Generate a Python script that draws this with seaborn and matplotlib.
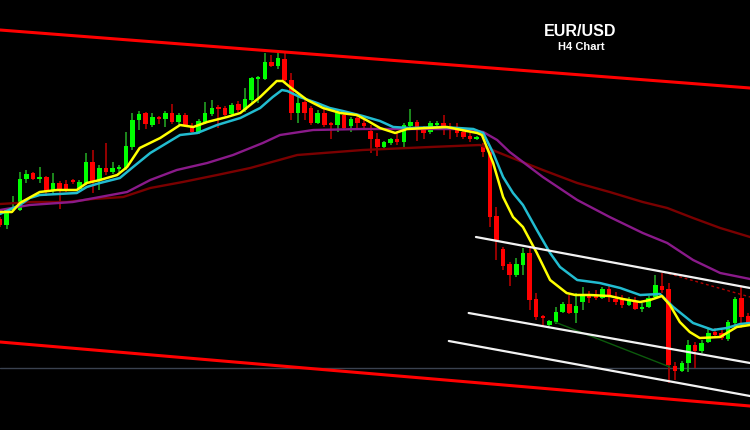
import numpy as np
import pandas as pd
import matplotlib
matplotlib.use("Agg")
import matplotlib.pyplot as plt
import seaborn as sns

# H4 candles (bar 0 = left edge)
opens = [1.1081, 1.1075, 1.1090, 1.1090, 1.1121, 1.1127, 1.1121, 1.1123, 1.1110, 1.1117,
         1.1116, 1.1119, 1.1111, 1.1117, 1.1138, 1.1120, 1.1132, 1.1128, 1.1131, 1.1132,
         1.1153, 1.1180, 1.1187, 1.1175, 1.1183, 1.1181, 1.1187, 1.1178, 1.1185, 1.1173,
         1.1168, 1.1178, 1.1186, 1.1193, 1.1192, 1.1186, 1.1196, 1.1190, 1.1200, 1.1221,
         1.1221, 1.1238, 1.1234, 1.1241, 1.1220, 1.1187, 1.1198, 1.1192, 1.1177, 1.1187,
         1.1176, 1.1175, 1.1185, 1.1174, 1.1182, 1.1177, 1.1169, 1.1161, 1.1153, 1.1157,
         1.1161, 1.1158, 1.1174, 1.1178, 1.1170, 1.1168, 1.1175, 1.1177, 1.1173, 1.1170,
         1.1168, 1.1164, 1.1161, 1.1153, 1.1148, 1.1084, 1.1051, 1.1036, 1.1025, 1.1035,
         1.1047, 1.1001, 1.0983, 1.0975, 1.0978, 1.0988, 1.0996, 1.0987, 1.0998, 1.1004,
         1.1005, 1.1002, 1.1011, 1.1001, 1.1002, 1.0995, 1.0998, 1.0991, 1.0993, 1.1003,
         1.1014, 1.1011, 1.0934, 1.0929, 1.0937, 1.0955, 1.0949, 1.0958, 1.0968, 1.0967,
         1.0961, 1.0977, 1.1002, 1.0984]
closes = [1.1075, 1.1090, 1.1093, 1.1121, 1.1126, 1.1121, 1.1122, 1.1108, 1.1117, 1.1109,
          1.1110, 1.1118, 1.1118, 1.1138, 1.1118, 1.1132, 1.1128, 1.1132, 1.1133, 1.1154,
          1.1180, 1.1186, 1.1176, 1.1183, 1.1181, 1.1187, 1.1178, 1.1185, 1.1175, 1.1168,
          1.1179, 1.1187, 1.1192, 1.1191, 1.1185, 1.1195, 1.1190, 1.1201, 1.1222, 1.1222,
          1.1238, 1.1234, 1.1242, 1.1220, 1.1187, 1.1197, 1.1187, 1.1177, 1.1187, 1.1175,
          1.1175, 1.1187, 1.1172, 1.1181, 1.1177, 1.1174, 1.1161, 1.1153, 1.1158, 1.1161,
          1.1158, 1.1175, 1.1178, 1.1173, 1.1167, 1.1177, 1.1176, 1.1174, 1.1171, 1.1167,
          1.1163, 1.1161, 1.1162, 1.1148, 1.1083, 1.1060, 1.1034, 1.1025, 1.1036, 1.1047,
          1.1000, 1.0983, 1.0982, 1.0979, 1.0988, 1.0996, 1.0987, 1.0994, 1.1004, 1.1002,
          1.1002, 1.1011, 1.1004, 1.0998, 1.0995, 1.1001, 1.0991, 1.0993, 1.1002, 1.1015,
          1.1010, 1.0935, 1.0929, 1.0937, 1.0955, 1.0949, 1.0957, 1.0967, 1.0965, 1.0962,
          1.0978, 1.1001, 1.0983, 1.0977]
highs = [1.1083, 1.1091, 1.1104, 1.1128, 1.1130, 1.1128, 1.1133, 1.1124, 1.1127, 1.1119,
         1.1120, 1.1121, 1.1120, 1.1147, 1.1150, 1.1135, 1.1157, 1.1138, 1.1135, 1.1168,
         1.1187, 1.1189, 1.1188, 1.1187, 1.1184, 1.1189, 1.1196, 1.1187, 1.1187, 1.1177,
         1.1181, 1.1198, 1.1200, 1.1195, 1.1194, 1.1197, 1.1199, 1.1212, 1.1223, 1.1224,
         1.1247, 1.1245, 1.1248, 1.1248, 1.1227, 1.1205, 1.1200, 1.1194, 1.1190, 1.1192,
         1.1178, 1.1190, 1.1188, 1.1183, 1.1185, 1.1180, 1.1175, 1.1167, 1.1159, 1.1162,
         1.1167, 1.1177, 1.1191, 1.1180, 1.1174, 1.1179, 1.1179, 1.1185, 1.1177, 1.1177,
         1.1170, 1.1167, 1.1164, 1.1157, 1.1150, 1.1093, 1.1053, 1.1038, 1.1042, 1.1052,
         1.1052, 1.1007, 1.0985, 1.0980, 1.0993, 1.0998, 1.1005, 1.1007, 1.1013, 1.1009,
         1.1010, 1.1013, 1.1015, 1.1008, 1.1005, 1.1003, 1.1003, 1.0997, 1.1004, 1.1025,
         1.1027, 1.1017, 1.0938, 1.0939, 1.0960, 1.0958, 1.0960, 1.0972, 1.0972, 1.0970,
         1.0980, 1.1003, 1.1013, 1.0987]
lows = [1.1073, 1.1071, 1.1089, 1.1089, 1.1117, 1.1120, 1.1117, 1.1104, 1.1107, 1.1091,
        1.1108, 1.1116, 1.1110, 1.1115, 1.1107, 1.1110, 1.1125, 1.1126, 1.1128, 1.1130,
        1.1150, 1.1170, 1.1171, 1.1173, 1.1176, 1.1173, 1.1176, 1.1175, 1.1173, 1.1167,
        1.1166, 1.1176, 1.1184, 1.1172, 1.1184, 1.1184, 1.1188, 1.1188, 1.1197, 1.1197,
        1.1220, 1.1233, 1.1231, 1.1218, 1.1180, 1.1177, 1.1180, 1.1175, 1.1176, 1.1173,
        1.1161, 1.1168, 1.1170, 1.1168, 1.1172, 1.1170, 1.1147, 1.1144, 1.1151, 1.1155,
        1.1155, 1.1153, 1.1173, 1.1159, 1.1161, 1.1166, 1.1172, 1.1165, 1.1161, 1.1163,
        1.1161, 1.1158, 1.1160, 1.1143, 1.1073, 1.1040, 1.1030, 1.1014, 1.1023, 1.1025,
        1.0990, 1.0980, 1.0973, 1.0974, 1.0976, 1.0987, 1.0986, 1.0977, 1.0990, 1.0997,
        1.1000, 1.1001, 1.0998, 1.0995, 1.0992, 1.0994, 1.0990, 1.0988, 1.0992, 1.1002,
        1.1007, 1.0917, 1.0920, 1.0928, 1.0928, 1.0932, 1.0947, 1.0957, 1.0962, 1.0960,
        1.0959, 1.0975, 1.0972, 1.0975]

# moving averages, sampled along the bar axis
fast_bar = [0, 1.8, 3.0, 6.0, 8.6, 11.6, 13.1, 15.1, 17.7, 19.2, 21.1, 24.2, 27.2, 29.2, 31.3,
            34.3, 36.3, 37.8, 39.3, 41.8, 42.7, 43.8, 46.4, 48.8, 51.4, 53.9, 55.6, 57.4, 59.7,
            61.5, 64.5, 67.5, 70.5, 72.1, 72.8, 74.5, 76.0, 77.5, 79.0, 81.1, 83.1, 85.6, 86.9,
            89.1, 92.1, 94.1, 96.7, 98.2, 100.0, 101.2, 102.7, 104.2, 105.7, 108.8, 109.8,
            111.3, 113.3]
fast_ma = [1.1088, 1.1088, 1.1097, 1.1108, 1.1110, 1.1110, 1.1117, 1.1120, 1.1125, 1.1133,
           1.1152, 1.1162, 1.1175, 1.1173, 1.1178, 1.1183, 1.1187, 1.1195, 1.1203, 1.1219,
           1.1219, 1.1213, 1.1200, 1.1192, 1.1187, 1.1185, 1.1179, 1.1172, 1.1167, 1.1171,
           1.1172, 1.1173, 1.1169, 1.1167, 1.1165, 1.1137, 1.1103, 1.1083, 1.1073, 1.1047,
           1.1020, 1.1007, 1.1005, 1.1005, 1.1004, 1.1001, 1.0998, 1.1000, 1.1004, 1.0995,
           1.0978, 1.0968, 1.0962, 1.0963, 1.0967, 1.0973, 1.0975]
mid_bar = [0, 2.0, 3.0, 4.5, 6.0, 11.6, 13.1, 15.1, 18.1, 20.1, 22.7, 25.2, 27.2, 29.8, 32.8,
           36.3, 37.8, 39.3, 41.2, 42.6, 43.4, 45.3, 47.9, 49.8, 51.8, 54.8, 57.4, 59.4, 61.9,
           66.9, 71.5, 73.0, 74.5, 76.0, 77.5, 79.0, 81.1, 83.1, 84.6, 87.2, 90.6, 93.7, 96.7,
           99.7, 101.7, 104.7, 107.7, 109.8, 111.8, 113.3]
mid_ma = [1.1086, 1.1092, 1.1095, 1.1102, 1.1105, 1.1107, 1.1113, 1.1117, 1.1122, 1.1133,
          1.1147, 1.1157, 1.1165, 1.1167, 1.1175, 1.1182, 1.1187, 1.1192, 1.1203, 1.1210,
          1.1209, 1.1203, 1.1197, 1.1192, 1.1189, 1.1184, 1.1179, 1.1173, 1.1172, 1.1173,
          1.1171, 1.1167, 1.1147, 1.1123, 1.1107, 1.1095, 1.1070, 1.1047, 1.1033, 1.1020,
          1.1017, 1.1012, 1.1005, 1.1006, 1.0993, 1.0977, 1.0970, 1.0972, 1.0976, 1.0977]
slow_bar = [0, 4.5, 11.0, 15.1, 19.2, 22.7, 26.7, 31.3, 35.2, 39.7, 42.3, 47.3, 54.8, 69.9,
            73.0, 75.1, 77.0, 82.0, 87.2, 92.1, 97.1, 100.8, 104.7, 108.8, 113.3]
slow_ma = [1.1090, 1.1095, 1.1098, 1.1103, 1.1108, 1.1120, 1.1130, 1.1137, 1.1145, 1.1157,
           1.1165, 1.1170, 1.1171, 1.1171, 1.1168, 1.1160, 1.1148, 1.1123, 1.1100, 1.1083,
           1.1067, 1.1057, 1.1040, 1.1027, 1.1021]
long_bar = [0, 5.0, 10.1, 14.0, 18.6, 22.7, 27.6, 32.8, 37.8, 44.9, 54.8, 65.0, 72.5, 77.0,
            82.0, 87.2, 92.1, 97.1, 100.8, 104.7, 108.8, 113.3]
long_ma = [1.1096, 1.1098, 1.1098, 1.1101, 1.1103, 1.1112, 1.1118, 1.1125, 1.1132, 1.1145,
           1.1150, 1.1153, 1.1155, 1.1143, 1.1130, 1.1117, 1.1108, 1.1098, 1.1092, 1.1082,
           1.1072, 1.1063]

# hand-drawn lines: (bar start, bar end), (price start, price end)
outer_top = ([0, 113.3], [1.1270, 1.1212])
outer_bottom = ([0, 113.3], [1.0958, 1.0894])
channel_top = ([71.9, 113.3], [1.1063, 1.1012])
channel_mid = ([70.8, 113.3], [1.0987, 1.0937])
channel_low = ([67.8, 113.3], [1.0959, 1.0904])
green_line = ([83.8, 101.2], [1.0978, 1.0933])
dotted_line = ([100.2, 113.3], [1.1028, 1.1003])
support_level = 1.0932

sns.set_theme(style="dark", rc={"axes.facecolor": "black", "figure.facecolor": "black"})
plt.rcParams["font.family"] = ["Liberation Sans", "DejaVu Sans"]

df = pd.DataFrame({"open": opens, "high": highs, "low": lows, "close": closes})
df["bar"] = np.arange(len(df))
up = df["close"] >= df["open"]

fig = plt.figure(figsize=(7.5, 4.3), dpi=100)
ax = fig.add_axes([0, 0, 1, 1])
ax.set_facecolor("black")

# candles
ax.vlines(df.loc[up, "bar"], df.loc[up, "low"], df.loc[up, "high"], color="#22a022", linewidth=1.2, zorder=2)
ax.vlines(df.loc[~up, "bar"], df.loc[~up, "low"], df.loc[~up, "high"], color="#b00000", linewidth=1.2, zorder=2)
body = (df["close"] - df["open"]).abs().clip(lower=0.00015)
ax.bar(df["bar"], body, bottom=df[["open", "close"]].min(axis=1), width=0.68,
       color=np.where(up, "#00ff00", "#ff0000"), linewidth=0, zorder=3)

# moving averages
sns.lineplot(x=long_bar, y=long_ma, color="#7a0000", linewidth=1.7, ax=ax, zorder=4)
sns.lineplot(x=slow_bar, y=slow_ma, color="#8a1a8a", linewidth=1.7, ax=ax, zorder=4)
sns.lineplot(x=mid_bar, y=mid_ma, color="#22bcd0", linewidth=1.8, ax=ax, zorder=5)
sns.lineplot(x=fast_bar, y=fast_ma, color="#ffff00", linewidth=1.8, ax=ax, zorder=6)

# drawn objects
ax.axhline(support_level, color="#3a4250", linewidth=1, zorder=1)
ax.plot(*green_line, color="#0c5a0c", linewidth=1, zorder=4)
ax.plot(*dotted_line, color="#b00000", linewidth=1, linestyle=(0, (2, 2)), zorder=4)
for line in (channel_top, channel_mid, channel_low):
    ax.plot(*line, color="#f2f2f2", linewidth=1.6, zorder=7)
for line in (outer_top, outer_bottom):
    ax.plot(*line, color="#ff0000", linewidth=2.2, zorder=7)

ax.set_xlim(0, 113.3)
ax.set_ylim(1.0870, 1.1300)
ax.set_xticks([])
ax.set_yticks([])
for s in ax.spines.values():
    s.set_visible(False)

fig.text(580 / 750, 1 - 31 / 430, "EUR/USD", color="white", fontsize=11.5,
         fontweight="bold", ha="center", va="center")
fig.text(581 / 750, 1 - 47 / 430, "H4 Chart", color="white", fontsize=8,
         fontweight="bold", ha="center", va="center")

fig.savefig("out.png", dpi=100, facecolor="black")
